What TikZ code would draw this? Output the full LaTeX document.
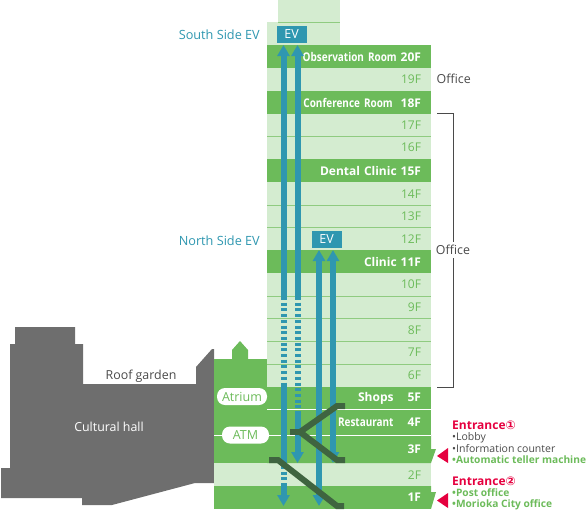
\documentclass[tikz,border=0pt]{standalone}
\usepackage{fontspec}
\setmainfont{Open Sans}
\newfontfamily\circledfont{DejaVu Sans}
\newfontfamily\narrowfont[FakeStretch=0.83]{Open Sans}
\usetikzlibrary{arrows.meta,positioning}
\definecolor{floorgreen}{HTML}{6CBB5A}
\definecolor{floorpale}{HTML}{D4ECD0}
\definecolor{floorline}{HTML}{8FCB80}
\definecolor{evteal}{HTML}{2F97B0}
\definecolor{hallgray}{HTML}{6E6E6E}
\definecolor{escdark}{HTML}{3F6440}
\definecolor{entrancered}{HTML}{E5003F}
\definecolor{labelgray}{HTML}{4A4A4A}

\begin{document}
\begin{tikzpicture}[
  x=1pt, y=-1pt,
  paleband/.style={fill=floorpale, anchor=north, minimum width=164pt, inner ysep=0pt, inner xsep=10pt, text width=144pt, align=right, text=floorgreen, font=\fontsize{12}{12}\selectfont},
  greenband/.style={paleband, fill=floorgreen, text=white, font=\fontsize{12}{12}\selectfont\bfseries},
  evbox/.style={fill=evteal, draw=floorpale, line width=0.5pt, minimum width=31pt, minimum height=18pt, inner sep=0pt, text=white, font=\fontsize{12.5}{12.5}\selectfont},
  evlabel/.style={anchor=east, text=evteal, inner sep=0pt, font=\fontsize{12.7}{12.7}\selectfont},
  evline/.style={draw=evteal, line width=6pt},
  evup/.style={evline, -{Triangle[width=12pt,length=11pt]}},
  evboth/.style={evline, {Triangle[width=12pt,length=11pt]}-{Triangle[width=12pt,length=11pt]}},
  evdash/.style={evline, dash pattern=on 3pt off 2.7pt},
  escalator/.style={draw=escdark, line width=6pt},
  pill/.style={fill=white, rounded corners=8pt, minimum height=17pt, inner sep=0pt, text=floorgreen, font=\fontsize{12.5}{12.5}\selectfont},
  plain/.style={inner sep=0pt, text=labelgray, font=\fontsize{12.4}{12.4}\selectfont},
  entrance/.style={anchor=west, inner sep=0pt, text=entrancered, font=\fontsize{12}{12}\selectfont\bfseries},
  detail/.style={anchor=west, inner sep=0pt, text=labelgray, font=\fontsize{10.5}{10.5}\selectfont},
  detailgreen/.style={detail, text=floorgreen, font=\fontsize{10.2}{10.2}\selectfont\bfseries}
]
  \useasboundingbox (0,0) rectangle (586,512);

  % Cultural hall
  \fill[hallgray] (15,327) -- (75,327) -- (75,344) -- (83,344) -- (83,384) -- (196,384) -- (196,367) -- (212,349) -- (214,349) -- (214,483) -- (195,483) -- (112,505) -- (82,505) -- (82,498) -- (1,498) -- (1,468) -- (10,468) -- (10,344) -- (15,344) -- cycle;

  % Atrium block
  \fill[floorgreen] (214,359) -- (232,359) -- (232,350) -- (240,341) -- (248,350) -- (248,359) -- (267,359) -- (267,463) -- (214,463) -- cycle;
  \fill[floorpale] (214,463) rectangle (431,486);
  \fill[floorgreen] (214,486) rectangle (431,509);

  % Top of the tower
  \fill[floorpale] (278,0) rectangle (340,22);
  \fill[floorpale] (267,22) rectangle (340,45);
  \draw[floorline] (278,22) -- (340,22);

  % Floors
  \foreach \fl/\ytop/\txt in {19/68/19F, 17/113.5/17F, 16/136/16F, 14/182/14F, 13/205/13F, 12/227.5/12F, 10/273/10F, 9/296/9F, 8/318.5/8F, 7/341/7F, 6/364/6F}
    \node[paleband, minimum height=23pt] (f\fl) at (349,\ytop) {\txt};
  \foreach \fl/\ytop/\txt in {20/45/{\narrowfont\bfseries Observation Room} 20F, 18/91/{\narrowfont\bfseries Conference Room}\hspace{4pt} 18F, 15/159/Dental Clinic 15F, 11/250/Clinic 11F, 5/387/Shops\hspace{10pt} 5F}
    \node[greenband, minimum height=23pt] (f\fl) at (349,\ytop) {\txt};
  \node[greenband, minimum height=25.5pt] (f4) at (349,409.5) {{\narrowfont\bfseries Restaurant}\hspace{10pt} 4F};
  \fill[floorgreen] (267,435) -- (431,435) -- (431,449) -- (436,449) -- (431,463) -- (267,463) -- cycle;
  \node[greenband, fill=none, minimum height=28pt] (f3) at (349,435) {3F};
  \node[paleband, fill=none, minimum height=23pt] (f2) at (349,463) {2F};
  \fill[floorgreen] (431,486) -- (431,492) -- (436,492) -- (431,509) -- cycle;
  \node[greenband, fill=none, minimum height=23pt] (f1) at (349,486) {1F};

  % Floor lines
  \foreach \yline in {136,205,227.5,296,318.5,341,364}
    \draw[floorline, line width=1pt] (267,\yline) -- (431,\yline);
  \draw[white, line width=1pt] (267,409.5) -- (431,409.5);
  \draw[white, line width=1pt] (214,435) -- (431,435);

  % Elevators
  \node[evbox] (evS) at (291.5,34) {EV};
  \node[evbox] (evN) at (326.5,239.5) {EV};
  \coordinate (sA) at (283.5,297);
  \coordinate (sAtop) at (283.5,45);
  \coordinate (sB) at (297.5,297);
  \coordinate (sBtop) at (297.5,45);
  \coordinate (sAmid) at (283.5,386);
  \coordinate (sAlow) at (283.5,466);
  \coordinate (sAend) at (283.5,485);
  \coordinate (sAtip) at (283.5,506);
  \coordinate (sBmid) at (297.5,414);
  \coordinate (sBtip) at (297.5,463);
  \coordinate (nAtop) at (319,250);
  \coordinate (nAtip) at (319,506);
  \coordinate (nBtop) at (333,250);
  \coordinate (nBtip) at (333,463);
  \draw[evup] (sA) -- (sAtop);
  \draw[evup] (sB) -- (sBtop);
  \draw[evdash] (sA) -- (sAmid);
  \draw[evdash] (sB) -- (sBmid);
  \draw[evline] (sAmid) -- (sAlow);
  \draw[evdash] (sAlow) -- (sAend);
  \draw[evup] (sAend) -- (sAtip);
  \draw[evup] (sBmid) -- (sBtip);
  \draw[evboth] (nAtop) -- (nAtip);
  \draw[evboth] (nBtop) -- (nBtip);

  % Escalators
  \coordinate (escA) at (290,432);
  \coordinate (escB) at (300,432);
  \coordinate (escC) at (337,406);
  \coordinate (escD) at (345,406);
  \coordinate (escE) at (337,460);
  \coordinate (escF) at (345,460);
  \coordinate (escG) at (269,460);
  \coordinate (escH) at (278,460);
  \coordinate (escI) at (337,506);
  \coordinate (escJ) at (344,506);
  \draw[escalator] (escD) -- (escC) -- (escB) -- (escE) -- (escF);
  \draw[escalator] (escA) -- (escB);
  \draw[escalator] (escG) -- (escH) -- (escI) -- (escJ);

  % Labels
  \node[evlabel] (southLabel) at (260,35) {South Side EV};
  \node[evlabel] (northLabel) at (260,241) {North Side EV};
  \node[pill, minimum width=50pt] (atrium) at (242,396.5) {Atrium};
  \node[pill, minimum width=47pt] (atm) at (245.5,435) {ATM};
  \node[plain] (roof) at (141,376) {Roof garden};
  \node[plain, text=white] (hall) at (109,427) {Cultural hall};
  \node[plain, anchor=west] (office) at (436.5,79) {Office};

  % Office bracket
  \coordinate (brTop) at (437,113.5);
  \coordinate (brBottom) at (437,387);
  \coordinate (brTopR) at (453,113.5);
  \coordinate (brBottomR) at (453,387);
  \draw[labelgray] (brTop) -- (brTopR) -- (brBottomR) -- (brBottom);
  \node[plain, fill=white, inner ysep=3pt] (officeB) at (453,250) {Office};

  % Entrances
  \fill[entrancered] (437,456) -- (448,448) -- (448,463) -- cycle;
  \fill[entrancered] (437,500.5) -- (448,493) -- (448,508) -- cycle;
  \node[entrance] (ent1) at (452,425) {Entrance{\circledfont ①}};
  \node[detail] (lobby) at (452,438) {•Lobby};
  \node[detail] (info) at (452,449) {•Information counter};
  \node[detailgreen] (teller) at (452,460) {•Automatic teller machine};
  \node[entrance] (ent2) at (452,481) {Entrance{\circledfont ②}};
  \node[detailgreen] (post) at (452,493) {•Post office};
  \node[detailgreen] (morioka) at (452,505) {•Morioka City office};
\end{tikzpicture}
\end{document}
